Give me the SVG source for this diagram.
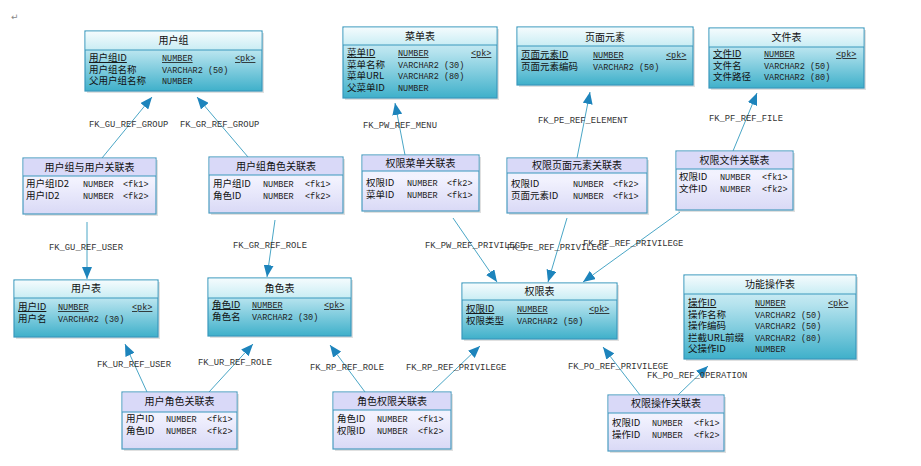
<svg xmlns="http://www.w3.org/2000/svg" width="921" height="466" viewBox="0 0 921 466">
<style>
.ent{fill:url(#gEnt);stroke:#3a98bd;stroke-width:1.2}
.ast{fill:url(#gAst);stroke:#4a9cc0;stroke-width:1.2}
.hdE{fill:url(#gHdE)}
.hdA{fill:#d9d9f8}
.sh{fill:#000;opacity:0.12}
.div{stroke:#3a98bd;stroke-width:1}
.t{font-family:"Noto Sans CJK SC","Liberation Sans",sans-serif;font-size:10px;fill:#111;text-anchor:middle}
.n{font-family:"Noto Sans CJK SC","Liberation Sans",sans-serif;font-size:9.5px;fill:#111}
.ty{font-family:"Liberation Mono",monospace;font-size:8.5px;fill:#222}
.u{text-decoration:underline}
.lb{font-family:"Liberation Mono",monospace;font-size:8.8px;fill:#333}
.c{stroke:#4aa6c6;stroke-width:1;fill:none;marker-end:url(#arr)}
</style>
<defs>
<linearGradient id="gEnt" x1="0" y1="0" x2="0" y2="1">
<stop offset="0" stop-color="#e6f6fa"/>
<stop offset="0.35" stop-color="#b5e3ee"/>
<stop offset="1" stop-color="#3fb0ca"/>
</linearGradient>
<linearGradient id="gHdE" x1="0" y1="0" x2="0" y2="1">
<stop offset="0" stop-color="#f4fbfd"/>
<stop offset="1" stop-color="#c9edf4"/>
</linearGradient>
<linearGradient id="gAst" x1="0" y1="0" x2="0" y2="1">
<stop offset="0" stop-color="#eef0fd"/>
<stop offset="0.4" stop-color="#f2f2fe"/>
<stop offset="1" stop-color="#d9d9f6"/>
</linearGradient>
<marker id="arr" markerWidth="12" markerHeight="10" refX="12" refY="5" orient="auto" markerUnits="userSpaceOnUse">
<path d="M0,0 L12,5 L0,10 z" fill="#1d84bc"/>
</marker>
</defs>
<rect width="921" height="466" fill="#fff"/>
<text x="11" y="20" font-family="DejaVu Sans,sans-serif" font-size="9" fill="#888">↵</text>

<g id="connectors">
<line class="c" x1="102" y1="158" x2="152" y2="97"/>
<line class="c" x1="248" y1="157" x2="197" y2="97"/>
<line class="c" x1="87" y1="222" x2="87" y2="279"/>
<line class="c" x1="275" y1="220" x2="267" y2="277"/>
<line class="c" x1="147" y1="392" x2="125" y2="344"/>
<line class="c" x1="209" y1="392" x2="253" y2="344"/>
<line class="c" x1="365" y1="392" x2="330" y2="345"/>
<line class="c" x1="432" y1="392" x2="480" y2="346"/>
<line class="c" x1="405" y1="155" x2="395" y2="103"/>
<line class="c" x1="577" y1="158" x2="590" y2="92"/>
<line class="c" x1="733" y1="151" x2="757" y2="93"/>
<line class="c" x1="453" y1="218" x2="497" y2="282"/>
<line class="c" x1="567" y1="218" x2="548" y2="282"/>
<line class="c" x1="680" y1="212" x2="583" y2="282"/>
<line class="c" x1="640" y1="395" x2="603" y2="347"/>
<line class="c" x1="678" y1="395" x2="708" y2="366"/>
<text class="lb" x="89" y="127">FK_GU_REF_GROUP</text>
<text class="lb" x="180" y="127">FK_GR_REF_GROUP</text>
<text class="lb" x="49" y="250">FK_GU_REF_USER</text>
<text class="lb" x="233" y="248">FK_GR_REF_ROLE</text>
<text class="lb" x="97" y="367">FK_UR_REF_USER</text>
<text class="lb" x="198" y="365">FK_UR_REF_ROLE</text>
<text class="lb" x="310" y="370">FK_RP_REF_ROLE</text>
<text class="lb" x="406" y="370">FK_RP_REF_PRIVILEGE</text>
<text class="lb" x="363" y="128">FK_PW_REF_MENU</text>
<text class="lb" x="538" y="123">FK_PE_REF_ELEMENT</text>
<text class="lb" x="709" y="121">FK_PF_REF_FILE</text>
<text class="lb" x="425" y="248">FK_PW_REF_PRIVILEGE</text>
<text class="lb" x="507" y="250">FK_PE_REF_PRIVILEGE</text>
<text class="lb" x="583" y="246">FK_PF_REF_PRIVILEGE</text>
<text class="lb" x="568" y="369">FK_PO_REF_PRIVILEGE</text>
<text class="lb" x="647" y="378">FK_PO_REF_OPERATION</text>
</g>

<!-- entity tables -->
<g id="usergroup">
<rect class="sh" x="87" y="33" width="177" height="60"/>
<rect class="ent" x="85" y="31" width="177" height="60"/>
<rect class="hdE" x="85.6" y="31.6" width="175.8" height="18.4"/>
<line class="div" x1="85" y1="50" x2="262" y2="50"/>
<text class="t" x="173.5" y="44">用户组</text>
<text class="n u" x="89" y="61">用户组ID</text><text class="ty u" x="162" y="61">NUMBER</text><text class="ty u" x="235" y="61">&lt;pk&gt;</text>
<text class="n" x="89" y="72.5">用户组名称</text><text class="ty" x="162" y="72.5">VARCHAR2 (50)</text>
<text class="n" x="89" y="84">父用户组名称</text><text class="ty" x="162" y="84">NUMBER</text>
</g>

<g id="menu">
<rect class="sh" x="345" y="29" width="154" height="71"/>
<rect class="ent" x="343" y="27" width="154" height="71"/>
<rect class="hdE" x="343.6" y="27.6" width="152.8" height="17.4"/>
<line class="div" x1="343" y1="45" x2="497" y2="45"/>
<text class="t" x="420" y="40">菜单表</text>
<text class="n u" x="347" y="56">菜单ID</text><text class="ty u" x="398" y="56">NUMBER</text><text class="ty u" x="471" y="56">&lt;pk&gt;</text>
<text class="n" x="347" y="67.5">菜单名称</text><text class="ty" x="398" y="67.5">VARCHAR2 (30)</text>
<text class="n" x="347" y="79">菜单URL</text><text class="ty" x="398" y="79">VARCHAR2 (80)</text>
<text class="n" x="347" y="90.5">父菜单ID</text><text class="ty" x="398" y="90.5">NUMBER</text>
</g>

<g id="element">
<rect class="sh" x="519" y="29" width="176" height="58"/>
<rect class="ent" x="517" y="27" width="176" height="58"/>
<rect class="hdE" x="517.6" y="27.6" width="174.8" height="18.4"/>
<line class="div" x1="517" y1="46" x2="693" y2="46"/>
<text class="t" x="605" y="41">页面元素</text>
<text class="n u" x="521" y="58">页面元素ID</text><text class="ty u" x="593" y="58">NUMBER</text><text class="ty u" x="666" y="58">&lt;pk&gt;</text>
<text class="n" x="521" y="70">页面元素编码</text><text class="ty" x="593" y="70">VARCHAR2 (50)</text>
</g>

<g id="file">
<rect class="sh" x="711" y="30" width="155" height="60"/>
<rect class="ent" x="709" y="28" width="155" height="60"/>
<rect class="hdE" x="709.6" y="28.6" width="153.8" height="18.4"/>
<line class="div" x1="709" y1="47" x2="864" y2="47"/>
<text class="t" x="786.5" y="41">文件表</text>
<text class="n u" x="713" y="57">文件ID</text><text class="ty u" x="764" y="57">NUMBER</text><text class="ty u" x="836" y="57">&lt;pk&gt;</text>
<text class="n" x="713" y="68.5">文件名</text><text class="ty" x="764" y="68.5">VARCHAR2 (50)</text>
<text class="n" x="713" y="80">文件路径</text><text class="ty" x="764" y="80">VARCHAR2 (80)</text>
</g>

<g id="user">
<rect class="sh" x="16" y="282" width="144" height="57"/>
<rect class="ent" x="14" y="280" width="144" height="57"/>
<rect class="hdE" x="14.6" y="280.6" width="142.8" height="17.4"/>
<line class="div" x1="14" y1="298" x2="158" y2="298"/>
<text class="t" x="86" y="292">用户表</text>
<text class="n u" x="18" y="310">用户ID</text><text class="ty u" x="58" y="310">NUMBER</text><text class="ty u" x="132" y="310">&lt;pk&gt;</text>
<text class="n" x="18" y="322">用户名</text><text class="ty" x="58" y="322">VARCHAR2 (30)</text>
</g>

<g id="role">
<rect class="sh" x="210" y="280" width="143" height="58"/>
<rect class="ent" x="208" y="278" width="143" height="58"/>
<rect class="hdE" x="208.6" y="278.6" width="141.8" height="19.4"/>
<line class="div" x1="208" y1="298" x2="351" y2="298"/>
<text class="t" x="279.5" y="292">角色表</text>
<text class="n u" x="212" y="308">角色ID</text><text class="ty u" x="252" y="308">NUMBER</text><text class="ty u" x="324" y="308">&lt;pk&gt;</text>
<text class="n" x="212" y="320">角色名</text><text class="ty" x="252" y="320">VARCHAR2 (30)</text>
</g>

<g id="privilege">
<rect class="sh" x="464" y="285" width="155" height="56"/>
<rect class="ent" x="462" y="283" width="155" height="56"/>
<rect class="hdE" x="462.6" y="283.6" width="153.8" height="16.4"/>
<line class="div" x1="462" y1="300" x2="617" y2="300"/>
<text class="t" x="539.5" y="295">权限表</text>
<text class="n u" x="466" y="312">权限ID</text><text class="ty u" x="517" y="312">NUMBER</text><text class="ty u" x="589" y="312">&lt;pk&gt;</text>
<text class="n" x="466" y="323.5">权限类型</text><text class="ty" x="517" y="323.5">VARCHAR2 (50)</text>
</g>

<g id="operation">
<rect class="sh" x="686" y="277" width="172" height="84"/>
<rect class="ent" x="684" y="275" width="172" height="84"/>
<rect class="hdE" x="684.6" y="275.6" width="170.8" height="18.4"/>
<line class="div" x1="684" y1="294" x2="856" y2="294"/>
<text class="t" x="770" y="288">功能操作表</text>
<text class="n u" x="688" y="306">操作ID</text><text class="ty u" x="755" y="306">NUMBER</text><text class="ty u" x="828" y="306">&lt;pk&gt;</text>
<text class="n" x="688" y="317.5">操作名称</text><text class="ty" x="755" y="317.5">VARCHAR2 (50)</text>
<text class="n" x="688" y="329">操作编码</text><text class="ty" x="755" y="329">VARCHAR2 (50)</text>
<text class="n" x="688" y="340.5">拦截URL前缀</text><text class="ty" x="755" y="340.5">VARCHAR2 (80)</text>
<text class="n" x="688" y="352">父操作ID</text><text class="ty" x="755" y="352">NUMBER</text>
</g>

<!-- association tables -->
<g id="usergroup_user">
<rect class="sh" x="25" y="160" width="133" height="56"/>
<rect class="ast" x="23" y="158" width="133" height="56"/>
<rect class="hdA" x="23.6" y="158.6" width="131.8" height="17.4"/>
<line class="div" x1="23" y1="176" x2="156" y2="176"/>
<text class="t" x="89.5" y="171">用户组与用户关联表</text>
<text class="n" x="26" y="187">用户组ID2</text><text class="ty" x="83" y="187">NUMBER</text><text class="ty" x="123" y="187">&lt;fk1&gt;</text>
<text class="n" x="26" y="198.5">用户ID2</text><text class="ty" x="83" y="198.5">NUMBER</text><text class="ty" x="123" y="198.5">&lt;fk2&gt;</text>
</g>

<g id="usergroup_role">
<rect class="sh" x="211" y="159" width="134" height="56"/>
<rect class="ast" x="209" y="157" width="134" height="56"/>
<rect class="hdA" x="209.6" y="157.6" width="132.8" height="17.4"/>
<line class="div" x1="209" y1="175" x2="343" y2="175"/>
<text class="t" x="276" y="170">用户组角色关联表</text>
<text class="n" x="213" y="187">用户组ID</text><text class="ty" x="263" y="187">NUMBER</text><text class="ty" x="305" y="187">&lt;fk1&gt;</text>
<text class="n" x="213" y="198.5">角色ID</text><text class="ty" x="263" y="198.5">NUMBER</text><text class="ty" x="305" y="198.5">&lt;fk2&gt;</text>
</g>

<g id="privilege_menu">
<rect class="sh" x="364" y="157" width="117" height="56"/>
<rect class="ast" x="362" y="155" width="117" height="56"/>
<rect class="hdA" x="362.6" y="155.6" width="115.8" height="15.4"/>
<line class="div" x1="362" y1="171" x2="479" y2="171"/>
<text class="t" x="420.5" y="167">权限菜单关联表</text>
<text class="n" x="366" y="186">权限ID</text><text class="ty" x="407" y="186">NUMBER</text><text class="ty" x="447" y="186">&lt;fk2&gt;</text>
<text class="n" x="366" y="197.5">菜单ID</text><text class="ty" x="407" y="197.5">NUMBER</text><text class="ty" x="447" y="197.5">&lt;fk1&gt;</text>
</g>

<g id="privilege_element">
<rect class="sh" x="509" y="160" width="140" height="55"/>
<rect class="ast" x="507" y="158" width="140" height="55"/>
<rect class="hdA" x="507.6" y="158.6" width="138.8" height="14.4"/>
<line class="div" x1="507" y1="173" x2="647" y2="173"/>
<text class="t" x="577" y="169">权限页面元素关联表</text>
<text class="n" x="511" y="187">权限ID</text><text class="ty" x="573" y="187">NUMBER</text><text class="ty" x="613" y="187">&lt;fk2&gt;</text>
<text class="n" x="511" y="198.5">页面元素ID</text><text class="ty" x="573" y="198.5">NUMBER</text><text class="ty" x="613" y="198.5">&lt;fk1&gt;</text>
</g>

<g id="privilege_file">
<rect class="sh" x="678" y="153" width="117" height="59"/>
<rect class="ast" x="676" y="151" width="117" height="59"/>
<rect class="hdA" x="676.6" y="151.6" width="115.8" height="17.4"/>
<line class="div" x1="676" y1="169" x2="793" y2="169"/>
<text class="t" x="734.5" y="164">权限文件关联表</text>
<text class="n" x="679" y="180">权限ID</text><text class="ty" x="720" y="180">NUMBER</text><text class="ty" x="762" y="180">&lt;fk1&gt;</text>
<text class="n" x="679" y="192">文件ID</text><text class="ty" x="720" y="192">NUMBER</text><text class="ty" x="762" y="192">&lt;fk2&gt;</text>
</g>

<g id="user_role">
<rect class="sh" x="124" y="394" width="115" height="57"/>
<rect class="ast" x="122" y="392" width="115" height="57"/>
<rect class="hdA" x="122.6" y="392.6" width="113.8" height="19.4"/>
<line class="div" x1="122" y1="412" x2="237" y2="412"/>
<text class="t" x="179.5" y="405">用户角色关联表</text>
<text class="n" x="126" y="422">用户ID</text><text class="ty" x="166" y="422">NUMBER</text><text class="ty" x="207" y="422">&lt;fk1&gt;</text>
<text class="n" x="126" y="434">角色ID</text><text class="ty" x="166" y="434">NUMBER</text><text class="ty" x="207" y="434">&lt;fk2&gt;</text>
</g>

<g id="role_privilege">
<rect class="sh" x="335" y="394" width="118" height="57"/>
<rect class="ast" x="333" y="392" width="118" height="57"/>
<rect class="hdA" x="333.6" y="392.6" width="116.8" height="17.4"/>
<line class="div" x1="333" y1="410" x2="451" y2="410"/>
<text class="t" x="392" y="405">角色权限关联表</text>
<text class="n" x="337" y="422">角色ID</text><text class="ty" x="377" y="422">NUMBER</text><text class="ty" x="418" y="422">&lt;fk1&gt;</text>
<text class="n" x="337" y="433.5">权限ID</text><text class="ty" x="377" y="433.5">NUMBER</text><text class="ty" x="418" y="433.5">&lt;fk2&gt;</text>
</g>

<g id="privilege_operation">
<rect class="sh" x="610" y="397" width="116" height="56"/>
<rect class="ast" x="608" y="395" width="116" height="56"/>
<rect class="hdA" x="608.6" y="395.6" width="114.8" height="17.4"/>
<line class="div" x1="608" y1="413" x2="724" y2="413"/>
<text class="t" x="666" y="407">权限操作关联表</text>
<text class="n" x="612" y="426">权限ID</text><text class="ty" x="652" y="426">NUMBER</text><text class="ty" x="694" y="426">&lt;fk1&gt;</text>
<text class="n" x="612" y="437.5">操作ID</text><text class="ty" x="652" y="437.5">NUMBER</text><text class="ty" x="694" y="437.5">&lt;fk2&gt;</text>
</g>
</svg>
